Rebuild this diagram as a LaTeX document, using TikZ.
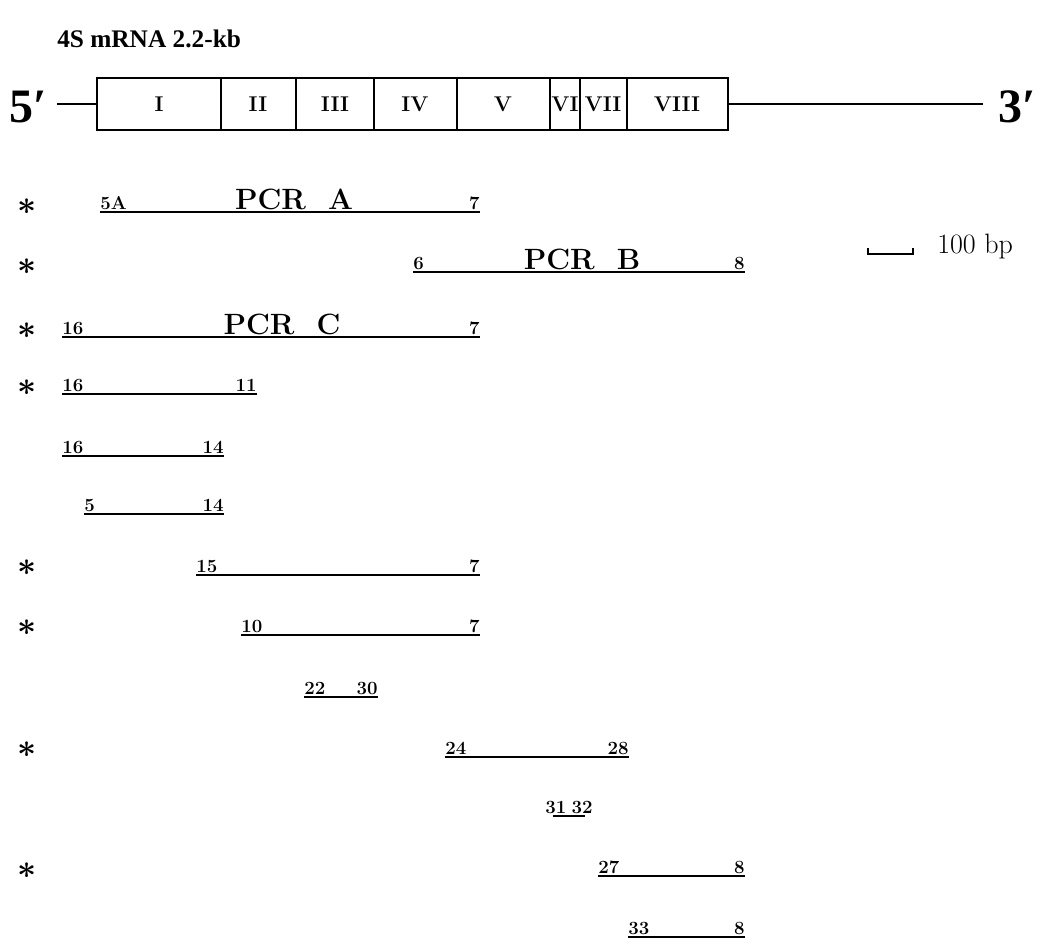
\documentclass[tikz,border=0pt]{standalone}
\usepackage{fontspec}
\newfontfamily\timesfont{Liberation Serif}

\tikzset{
  lab/.style={inner xsep=0pt, inner ysep=1.5pt, font=\fontsize{14}{14}\selectfont\bfseries},
  pcr/.style={inner sep=0pt, anchor=base, font=\fontsize{22}{22}\selectfont\bfseries},
  frag/.style={line width=2pt},
  exon/.style={inner sep=0pt, font=\fontsize{16}{16}\selectfont\bfseries},
  star/.style={inner sep=0pt, font=\fontsize{24}{24}\selectfont\boldmath},
  endlab/.style={inner sep=0pt, anchor=base west, font=\fontsize{36}{36}\selectfont\timesfont\bfseries},
  head/.style={inner sep=0pt, anchor=base west, font=\fontsize{19}{19}\selectfont\timesfont\bfseries},
}

\begin{document}
\begin{tikzpicture}[x=0.75pt,y=0.75pt,yscale=-1,xscale=1]
\useasboundingbox (0,0) rectangle (1038,939);

% Title
\draw (57,47) node [head] (title) {4S mRNA 2.2-kb};

%Shape: Rectangle (exons)
\draw [line width=1.5pt] (97,78) rectangle (728,130);
\draw [line width=1.5pt] (221,78) -- (221,130) (296,78) -- (296,130) (374,78) -- (374,130) (457,78) -- (457,130) (550,78) -- (550,130) (580,78) -- (580,130) (627,78) -- (627,130);
% Text Node
\draw (159,104) node [exon] (exI) {I};
\draw (258,104) node [exon] (exII) {II};
\draw (335,104) node [exon] (exIII) {III};
\draw (415,104) node [exon] (exIV) {IV};
\draw (503,104) node [exon] (exV) {V};
\draw (565,104) node [exon] (exVI) {VI};
\draw (603,104) node [exon] (exVII) {VII};
\draw (677,104) node [exon] (exVIII) {VIII};

% 5' and 3' ends
\draw (9,122) node [endlab] (five) {5′};
\draw (998,122) node [endlab] (three) {3′};
\coordinate (boxl) at (97,104);
\coordinate (boxr) at (728,104);
\draw [line width=1.6pt] (57,104) -- (boxl);
\draw [line width=1.6pt] (boxr) -- (983,104);

% Scale bar
\draw [line width=1.3pt] (868,248) -- (868,254) -- (913,254) -- (913,248);
\draw (937,253) node [anchor=base west][inner sep=0pt, font=\fontsize{21}{21}\selectfont] (bp) {100 bp};

%PCR A
\draw (100,212) node [lab, anchor=south west] (aL) {5A};
\draw (480,212) node [lab, anchor=south east] (aR) {7};
\draw [frag] (aL.south west) -- (aR.south east);
\draw (294,209) node [pcr] (pcrA) {PCR\ \ A};
%PCR B
\draw (413,272) node [lab, anchor=south west] (bL) {6};
\draw (745,272) node [lab, anchor=south east] (bR) {8};
\draw [frag] (bL.south west) -- (bR.south east);
\draw (582,269) node [pcr] (pcrB) {PCR\ \ B};
%PCR C
\draw (62,337) node [lab, anchor=south west] (cL) {16};
\draw (480,337) node [lab, anchor=south east] (cR) {7};
\draw [frag] (cL.south west) -- (cR.south east);
\draw (282,334) node [pcr] (pcrC) {PCR\ \ C};

%Straight Lines 16-11
\draw (62,394) node [lab, anchor=south west] (dL) {16};
\draw (257,394) node [lab, anchor=south east] (dR) {11};
\draw [frag] (dL.south west) -- (dR.south east);
%Straight Lines 16-14
\draw (62,456) node [lab, anchor=south west] (eL) {16};
\draw (224,456) node [lab, anchor=south east] (eR) {14};
\draw [frag] (eL.south west) -- (eR.south east);
%Straight Lines 5-14
\draw (84,514) node [lab, anchor=south west] (fL) {5};
\draw (224,514) node [lab, anchor=south east] (fR) {14};
\draw [frag] (fL.south west) -- (fR.south east);
%Straight Lines 15-7
\draw (196,575) node [lab, anchor=south west] (gL) {15};
\draw (480,575) node [lab, anchor=south east] (gR) {7};
\draw [frag] (gL.south west) -- (gR.south east);
%Straight Lines 10-7
\draw (241,635) node [lab, anchor=south west] (hL) {10};
\draw (480,635) node [lab, anchor=south east] (hR) {7};
\draw [frag] (hL.south west) -- (hR.south east);
%Straight Lines 22-30
\draw (304,697) node [lab, anchor=south west] (iL) {22};
\draw (378,697) node [lab, anchor=south east] (iR) {30};
\draw [frag] (iL.south west) -- (iR.south east);
%Straight Lines 24-28
\draw (445,757) node [lab, anchor=south west] (jL) {24};
\draw (629,757) node [lab, anchor=south east] (jR) {28};
\draw [frag] (jL.south west) -- (jR.south east);
%Straight Lines 31-32
\draw (545,816) node [lab, anchor=south west] (kL) {31};
\draw (593,816) node [lab, anchor=south east] (kR) {32};
\coordinate (kA) at (553,816);
\coordinate (kB) at (585,816);
\draw [frag] (kA) -- (kB);
%Straight Lines 27-8
\draw (598,876) node [lab, anchor=south west] (lL) {27};
\draw (745,876) node [lab, anchor=south east] (lR) {8};
\draw [frag] (lL.south west) -- (lR.south east);
%Straight Lines 33-8
\draw (628,937) node [lab, anchor=south west] (mL) {33};
\draw (745,937) node [lab, anchor=south east] (mR) {8};
\draw [frag] (mL.south west) -- (mR.south east);

% Asterisks
\draw (27,207) node [star] (s1) {$\ast$};
\draw (27,267) node [star] (s2) {$\ast$};
\draw (27,331) node [star] (s3) {$\ast$};
\draw (27,388) node [star] (s4) {$\ast$};
\draw (27,568) node [star] (s5) {$\ast$};
\draw (27,628) node [star] (s6) {$\ast$};
\draw (27,750) node [star] (s7) {$\ast$};
\draw (27,871) node [star] (s8) {$\ast$};

\end{tikzpicture}
\end{document}
